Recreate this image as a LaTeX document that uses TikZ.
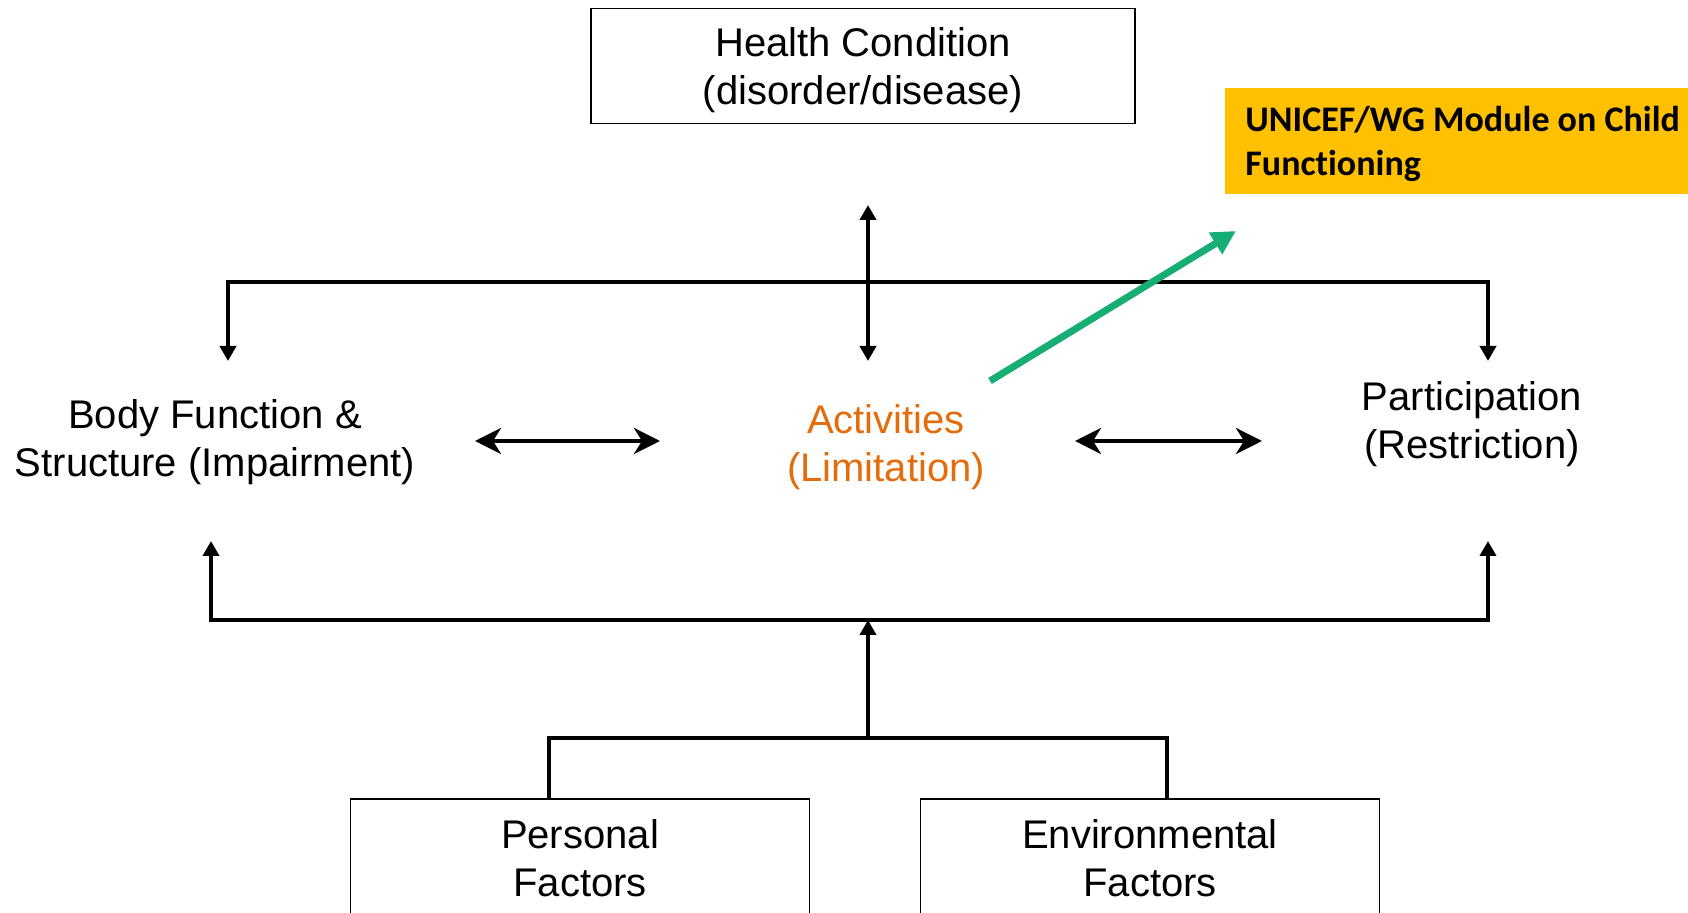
\documentclass[tikz,border=0pt]{standalone}
\usepackage{fontspec}
\setmainfont{Liberation Sans}
\newfontfamily\calibrifont[Ligatures=NoCommon]{Carlito}
\usetikzlibrary{arrows.meta,positioning}
\definecolor{actorange}{RGB}{228,108,10}
\definecolor{wggold}{RGB}{255,192,0}
\definecolor{wggreen}{RGB}{22,174,116}

\begin{document}
\begin{tikzpicture}[x=0.5pt,y=-0.5pt,
    every node/.style={font=\fontsize{20}{24}\selectfont,align=center},
    >={Triangle[length=7.5pt,width=8pt]},
    box/.style={draw,line width=0.8pt,inner sep=0pt},
    factor/.style={box,minimum width=229.5pt,minimum height=59pt},
    link/.style={line width=2pt},
    twoway/.style={line width=2.2pt,{Stealth[length=13pt,width=13pt,inset=4pt]}-{Stealth[length=13pt,width=13pt,inset=4pt]}},
    module/.style={fill=wggold,font=\calibrifont\bfseries\fontsize{18}{22}\selectfont,
      align=flush left,anchor=west,inner xsep=10pt,text width=240pt,minimum height=53pt},
    pointer/.style={draw=wggreen,line width=3.5pt,-{Triangle[length=12pt,width=12pt]}}]
  \useasboundingbox (0,0) rectangle (1688,913);
  \clip (0,0) rectangle (1688,913);

  \node[box,minimum width=272pt,minimum height=57.5pt,text depth=0pt] (hc) at (863,66) {Health Condition\\(disorder/disease)};
  \node[module,text height=15.5pt] (wg) at (1225,141) {UNICEF/WG Module on Child\\Functioning};

  \node (bfs) at (215,442) {Body Function \&\\Structure (Impairment)};
  \node[text=actorange] (act) at (886,447) {Activities\\(Limitation)};
  \node (par) at (1472,424) {Participation\\(Restriction)};

  \node[factor] (pf) at (580,858) {Personal\\Factors};
  \node[factor] (ef) at (1150,858) {Environmental\\Factors};

  % arrow ends
  \coordinate (hcout) at (868,205);
  \coordinate (actin) at (868,361);
  \coordinate (bfin) at (228,361);
  \coordinate (parin) at (1488,361);
  \coordinate (bfout) at (211,541);
  \coordinate (parout) at (1488,541);
  \coordinate (cj) at (868,620);
  \coordinate (fj) at (868,738);
  \coordinate (pfup) at (549,799);
  \coordinate (efup) at (1167,799);
  \coordinate (bfr) at (475,441);
  \coordinate (actl) at (660,441);
  \coordinate (actr) at (1075,441);
  \coordinate (parl) at (1262,441);
  \coordinate (grs) at (990,381);
  \coordinate (gre) at (1236,231);

  \draw[link,<->] (bfin) -- ++(0,-79) -| (parin);
  \draw[link,<->] (actin) -- (hcout);
  \draw[twoway] (bfr) -- (actl);
  \draw[twoway] (actr) -- (parl);
  \draw[link,<->] (bfout) |- (cj) -| (parout);
  \draw[link,->] (fj) -- (cj);
  \draw[link] (pfup) |- (fj) -| (efup);
  \draw[pointer] (grs) -- (gre);
\end{tikzpicture}
\end{document}
